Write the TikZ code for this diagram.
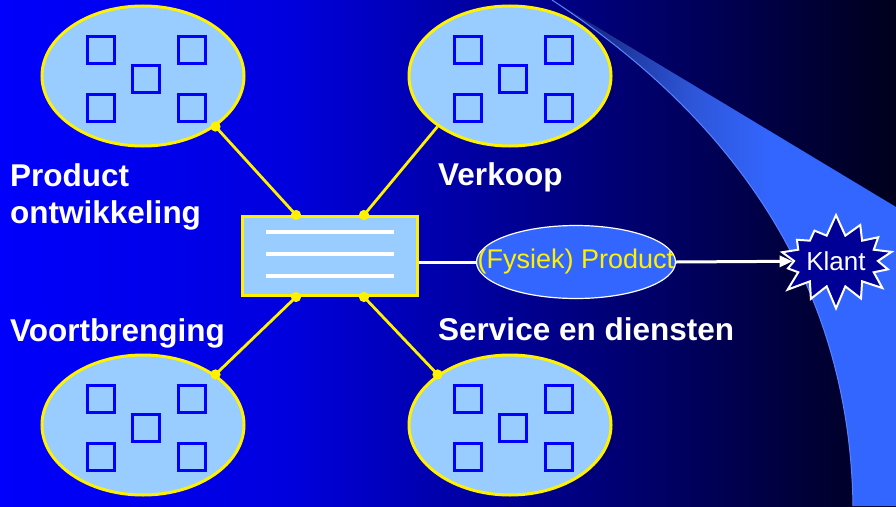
\documentclass[tikz,border=0pt]{standalone}
\usepackage{fontspec}
\setmainfont{Liberation Sans}
\usepackage{tikz}
\usepackage{xcolor}
\usetikzlibrary{shapes, arrows.meta, positioning}

\definecolor{cellfill}{RGB}{153,204,255}
\definecolor{unitblue}{RGB}{0,0,255}
\definecolor{prodblue}{RGB}{51,102,255}
\definecolor{starnavy}{RGB}{0,0,150}
\definecolor{edgeblue}{RGB}{90,130,255}
\definecolor{bgA}{RGB}{0,0,252}
\definecolor{bgB}{RGB}{0,0,222}
\definecolor{bgC}{RGB}{0,0,140}
\definecolor{bgD}{RGB}{0,0,28}
\definecolor{swA}{RGB}{15,25,100}
\definecolor{swB}{RGB}{45,85,215}
\definecolor{swC}{RGB}{51,102,255}

\pgfdeclarehorizontalshading{bgshade}{100bp}{color(0bp)=(bgA); color(25bp)=(bgA); color(41bp)=(bgB); color(55bp)=(bgC); color(75bp)=(bgD); color(100bp)=(bgD)}
\pgfdeclarehorizontalshading{swoosh}{100bp}{color(0bp)=(swA); color(25bp)=(swA); color(45bp)=(swB); color(57bp)=(swC); color(100bp)=(swC)}

\tikzset{
  dept/.style={ellipse, draw=yellow, line width=3pt, fill=cellfill, minimum width=202pt, minimum height=140pt, inner sep=0pt},
  unit/.style={draw=unitblue, line width=3.5pt, fill=cellfill, minimum size=27pt, inner sep=0pt},
  lbl/.style={text=white, font=\bfseries\fontsize{31.5}{37}\selectfont, align=left, anchor=base west, inner sep=0pt},
  link/.style={yellow, line width=2.8pt},
  flow/.style={white, line width=3pt},
}

\begin{document}
\begin{tikzpicture}[x=1pt, y=-1pt]
\useasboundingbox (0,0) rectangle (896,506);
\shade[shading=bgshade] (0,0) rectangle (896,506);

% customer swoosh
\shade[shading=swoosh] (552,0) .. controls (750,130) and (850,300) .. (853,506) -- (896,506) -- (896,207) -- cycle;
\draw[edgeblue, line width=1pt] (552,0) .. controls (750,130) and (850,300) .. (853,506);

\node[lbl] (pdlbl) at (10,223) {Product\\ontwikkeling};
\node[lbl] (vklbl) at (438,185) {Verkoop};
\node[lbl] (vblbl) at (10,341) {Voortbrenging};
\node[lbl] (sdlbl) at (438,340) {Service en diensten};

\node[dept] (pd) at (143,76) {};
\node[dept] (vk) at (510,76) {};
\node[dept] (vb) at (143,425) {};
\node[dept] (sd) at (510,425) {};

\foreach \e in {pd, vk, vb, sd}
    \foreach \dx/\dy [count=\i] in {-42/-26, 49/-26, 3/3, -42/32, 49/32}
        \node[unit] (\e-u\i) at ([shift={(\dx,\dy)}]\e.center) {};

\node[draw=yellow, line width=3pt, fill=cellfill, minimum width=175pt, minimum height=79pt, inner sep=0pt] (box) at (330,256) {};
\foreach \dy in {-24, -2, 20}
    \draw[white, line width=3.5pt] ([shift={(-64,\dy)}]box.center) -- ([shift={(64,\dy)}]box.center);

\coordinate (boxtl) at ([xshift=-34pt]box.north);
\coordinate (boxtr) at ([xshift=34pt]box.north);
\coordinate (boxbl) at ([xshift=-34pt]box.south);
\coordinate (boxbr) at ([xshift=34pt]box.south);

\node[ellipse, draw=white, line width=1.2pt, fill=prodblue, minimum width=199pt, minimum height=73pt, inner sep=0pt, text=yellow, font=\fontsize{27}{30}\selectfont] (prod) at (576,262) {\makebox[0pt]{(Fysiek) Product}};

\node[starburst, starburst points=14, starburst point height=22pt, random starburst=7, draw=white, line width=2pt, fill=starnavy, minimum width=114pt, minimum height=96pt, inner sep=0pt, text=white, font=\fontsize{26}{30}\selectfont] (klant) at (836,261) {Klant};

% yellow links with dots
\draw[link, {Circle[length=10pt]}-{Circle[length=10pt]}, shorten <=-5pt, shorten >=-5pt] (pd.south east) -- (boxtl);
\draw[link, {Circle[length=10pt]}-, shorten <=-5pt] (boxtr) -- (vk.south west);
\draw[link, {Circle[length=10pt]}-{Circle[length=10pt]}, shorten <=-5pt, shorten >=-5pt] (vb.north east) -- (boxbl);
\draw[link, {Circle[length=10pt]}-{Circle[length=10pt]}, shorten <=-5pt, shorten >=-5pt] (sd.north west) -- (boxbr);

\draw[flow] (box.east |- prod.west) -- (prod.west);
\draw[flow, -{Triangle[length=13pt, width=11pt]}] (prod.east) -- (klant);
\end{tikzpicture}
\end{document}
